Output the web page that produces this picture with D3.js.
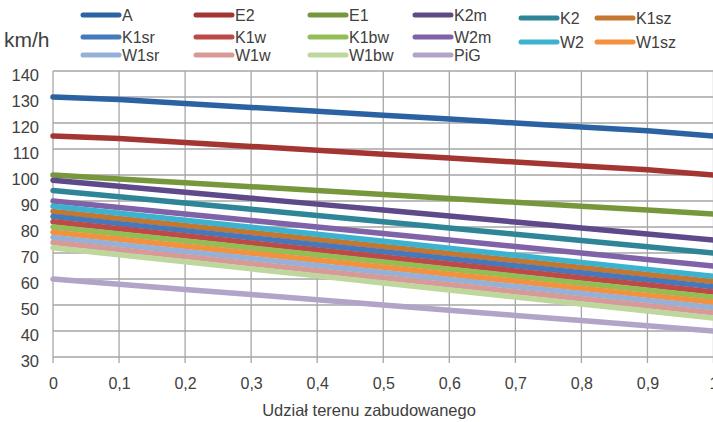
<!DOCTYPE html>
<html><head><meta charset="utf-8">
<script src="https://cdn.jsdelivr.net/npm/d3@7"></script>
<style>
html,body{margin:0;padding:0;background:#fff;overflow:hidden}
text{font-family:"Liberation Sans","Noto Sans",sans-serif;fill:#404040}
</style></head>
<body><svg id="c" width="713" height="422"></svg>
<script>
const xValues = [0,0.1,0.2,0.3,0.4,0.5,0.6,0.7,0.8,0.9,1];
const xTickLabels = ["0","0,1","0,2","0,3","0,4","0,5","0,6","0,7","0,8","0,9","1"];
const yTicks = [30,40,50,60,70,80,90,100,110,120,130,140];
const seriesNames = ["A","E2","E1","K2m","K2","K1sz","K1sr","K1w","K1bw","W2m","W2","W1sz","W1sr","W1w","W1bw","PiG"];
const seriesColors = ["#2A62A2","#A33533","#77973D","#5E4A8A","#2F8598","#C5762F","#4679BC","#BE4A47","#93BE55","#7F62A8","#3CB2CF","#F4913F","#95B1D8","#D89A98","#BED79C","#B2A3C8"];
const A    = [130,129,127.5,126,124.5,123,121.5,120,118.5,117,115];
const E2   = [115,114,112.5,111,109.5,108,106.5,105,103.5,102,100];
const E1   = [100,98.5,97,95.5,94,92.5,91,89.5,88,86.5,85];
const K2m  = [98,95.7,93.4,91.1,88.8,86.5,84.2,81.9,79.6,77.3,75];
const K2   = [94,91.6,89.2,86.8,84.4,82,79.6,77.2,74.8,72.4,70];
const K1sz = [86,83.3,80.6,77.9,75.2,72.5,69.8,67.1,64.4,61.7,59];
const K1sr = [84,81.3,78.6,75.9,73.2,70.5,67.8,65.1,62.4,59.7,57];
const K1w  = [82,79.3,76.6,73.9,71.2,68.5,65.8,63.1,60.4,57.7,55];
const K1bw = [80,77.3,74.6,71.9,69.2,66.5,63.8,61.1,58.4,55.7,53];
const W2m  = [90,87.5,85,82.5,80,77.5,75,72.5,70,67.5,65];
const W2   = [88,85.3,82.6,79.9,77.2,74.5,71.8,69.1,66.4,63.7,61];
const W1sz = [78,75.3,72.6,69.9,67.2,64.5,61.8,59.1,56.4,53.7,51];
const W1sr = [76,73.3,70.6,67.9,65.2,62.5,59.8,57.1,54.4,51.7,49];
const W1w  = [74,71.3,68.6,65.9,63.2,60.5,57.8,55.1,52.4,49.7,47];
const W1bw = [72,69.3,66.6,63.9,61.2,58.5,55.8,53.1,50.4,47.7,45];
const PiG  = [60,58,56,54,52,50,48,46,44,42,40];
const seriesValues = [A,E2,E1,K2m,K2,K1sz,K1sr,K1w,K1bw,W2m,W2,W1sz,W1sr,W1w,W1bw,PiG];

const svg = d3.select("#c");
const x = d3.scaleLinear().domain([0,1]).range([53,713.5]);
const y = d3.scaleLinear().domain([30,140]).range([357,71]);
const grid = "#a6a6a6";

// horizontal gridlines
svg.append("g").selectAll("line").data(yTicks).join("line")
  .attr("x1",x(0)).attr("x2",x(1)).attr("y1",d=>y(d)).attr("y2",d=>y(d))
  .attr("stroke",grid).attr("stroke-width",1.3);
// vertical gridlines
svg.append("g").selectAll("line").data(xValues).join("line")
  .attr("x1",d=>x(d)).attr("x2",d=>x(d)).attr("y1",y(140)).attr("y2",y(30)+6)
  .attr("stroke",grid).attr("stroke-width",1.3);

// y axis labels
const yAxis = d3.axisLeft(y).tickValues(yTicks).tickSize(0).tickPadding(14);
const gy = svg.append("g").attr("transform",`translate(${x(0)},0)`).call(yAxis);
gy.select(".domain").remove();
gy.selectAll("text").attr("font-size",16.5).attr("fill","#404040").attr("dy","0.6em")
  .style("font-family","'Liberation Sans',sans-serif");

// x axis labels
const xAxis = d3.axisBottom(x).tickValues(xValues).tickFormat((d,i)=>xTickLabels[i]).tickSize(0).tickPadding(21);
const gx = svg.append("g").attr("transform",`translate(0,${y(30)})`).call(xAxis);
gx.select(".domain").remove();
gx.selectAll("text").attr("font-size",16).attr("fill","#404040")
  .style("font-family","'Liberation Sans',sans-serif");

// lines
const line = d3.line().x((d,i)=>x(xValues[i])).y(d=>y(d));
svg.append("g").selectAll("path").data(seriesValues).join("path")
  .attr("d",line).attr("fill","none")
  .attr("stroke",(d,i)=>seriesColors[i]).attr("stroke-width",5.5)
  .attr("stroke-linecap","round").attr("stroke-linejoin","round");

// axis title
svg.append("text").attr("x",369).attr("y",416).attr("text-anchor","middle")
  .attr("font-size",16.5).text("Udział terenu zabudowanego");
svg.append("text").attr("x",4).attr("y",47).attr("font-size",21).text("km/h");

// legend
const legX = [83,196,310,415,521,597];
const legRowY = [15,37,55];
const legend = svg.append("g");
seriesNames.forEach((n,i)=>{
  const col = i%6, row = Math.floor(i/6);
  let yy = legRowY[row] + (col>=4 ? (row===0?3:5) : 0);
  legend.append("line").attr("x1",legX[col]).attr("x2",legX[col]+36)
    .attr("y1",yy).attr("y2",yy).attr("stroke",seriesColors[i]).attr("stroke-width",5).attr("stroke-linecap","round");
  legend.append("text").attr("x",legX[col]+39).attr("y",yy).attr("dy","0.38em")
    .attr("font-size",16).text(n);
});
</script></body></html>
